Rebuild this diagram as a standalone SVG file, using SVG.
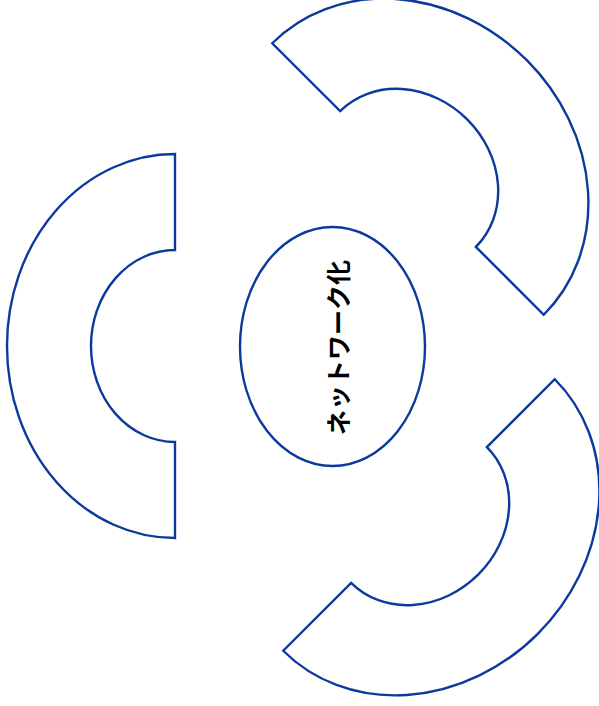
<svg xmlns="http://www.w3.org/2000/svg" width="599" height="706" viewBox="0 0 599 706">
<style>
.arc{fill:#ffffff;stroke:#0B3A9C;stroke-width:2.4;stroke-linejoin:miter}
.ctr{fill:#ffffff;stroke:#0B3A9C;stroke-width:2.4}
.lbl{font-family:"Noto Sans CJK JP","Noto Sans",sans-serif;font-size:25px;font-weight:bold;fill:#000000}
</style>
<defs>
<path id="blockarc" d="M 0,-192 A 168 192 0 0 0 0,192 L 0,96 A 84 96 0 0 1 0,-96 Z"/>
</defs>
<g id="connectors">
<g id="arc-left"><use href="#blockarc" class="arc" transform="translate(175,346)"/></g>
<g id="arc-top-right"><use href="#blockarc" class="arc" transform="translate(408,179) rotate(135)"/></g>
<g id="arc-bottom-right"><use href="#blockarc" class="arc" transform="translate(419,515) rotate(225)"/></g>
</g>
<g id="node-center">
<ellipse class="ctr" cx="332.5" cy="346.5" rx="92.5" ry="119.5"/>
<text class="lbl" x="336.5" y="347.5" text-anchor="middle" dominant-baseline="central" transform="rotate(-90 336.5 347.5)">ネットワーク化</text>
</g>
</svg>
